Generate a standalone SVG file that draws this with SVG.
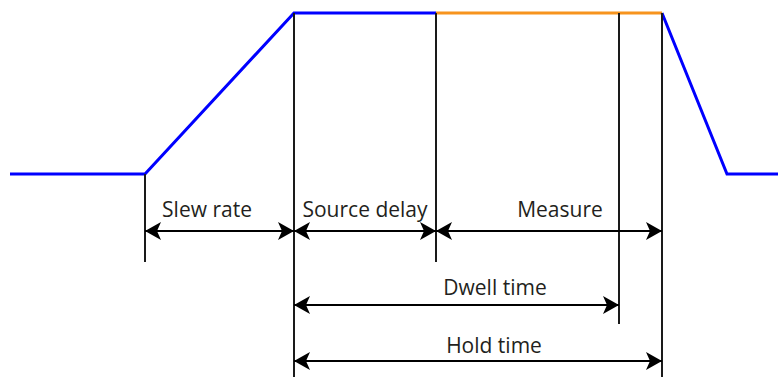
<svg xmlns="http://www.w3.org/2000/svg" width="778" height="377" viewBox="0 0 778 377">
<style>
.sig{fill:none;stroke-width:3;stroke-linejoin:miter}
.guide{stroke:#1a1a1a;stroke-width:2;fill:none}
.dim{stroke:#000;stroke-width:2;fill:none;marker-start:url(#ah);marker-end:url(#ah)}
text{font-family:"Open Sans","Liberation Sans",sans-serif;font-size:21px;fill:#231f20;text-anchor:middle}
</style>
<defs>
<marker id="ah" viewBox="0 0 16 18" refX="16" refY="9" markerWidth="16" markerHeight="18" markerUnits="userSpaceOnUse" orient="auto-start-reverse">
<path d="M16,9 L0,0 L4,9 L0,18 Z" fill="#000"/>
</marker>
</defs>
<g id="signal">
<polyline class="sig" stroke="#0000ff" points="10,174 145,174 294,13 436,13"/>
<line class="sig" stroke="#f7941d" x1="436" y1="13" x2="662" y2="13"/>
<polyline class="sig" stroke="#0000ff" points="662,13 727,174 778,174"/>
</g>
<g id="guides">
<line class="guide" x1="145" y1="174" x2="145" y2="262"/>
<line class="guide" x1="294" y1="13" x2="294" y2="377"/>
<line class="guide" x1="436" y1="13" x2="436" y2="262"/>
<line class="guide" x1="619" y1="13" x2="619" y2="324"/>
<line class="guide" x1="662" y1="13" x2="662" y2="377"/>
</g>
<g id="connectors">
<line class="dim" x1="145" y1="231" x2="294" y2="231"/>
<line class="dim" x1="294" y1="231" x2="436" y2="231"/>
<line class="dim" x1="436" y1="231" x2="662" y2="231"/>
<line class="dim" x1="294" y1="305" x2="619" y2="305"/>
<line class="dim" x1="294" y1="361" x2="662" y2="361"/>
</g>
<g id="label-slew"><text x="207" y="217">Slew rate</text></g>
<g id="label-source"><text x="365" y="217">Source delay</text></g>
<g id="label-measure"><text x="560" y="217">Measure</text></g>
<g id="label-dwell"><text x="495" y="295">Dwell time</text></g>
<g id="label-hold"><text x="494" y="353">Hold time</text></g>
</svg>
